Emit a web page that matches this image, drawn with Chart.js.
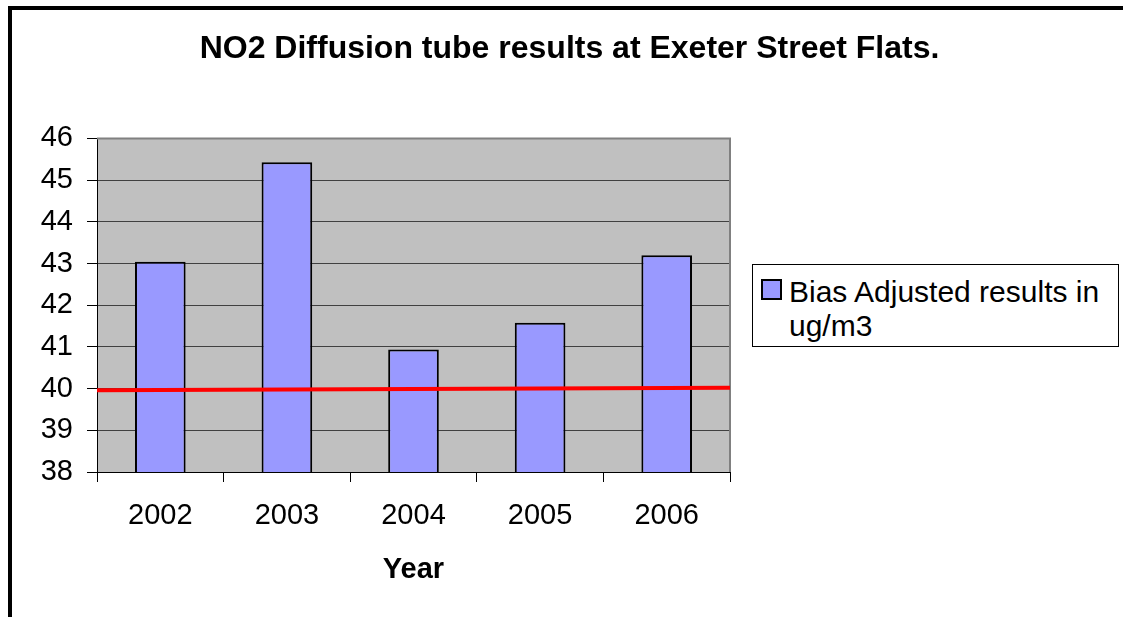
<!DOCTYPE html>
<html>
<head>
<meta charset="utf-8">
<script src="https://cdn.jsdelivr.net/npm/chart.js@4"></script>
<style>
    html, body { margin: 0; padding: 0; background: #fff; }
    #wrap { position: relative; width: 1123px; height: 617px; overflow: hidden; background: #fff; }
    #frame {
        position: absolute; left: 8px; top: 6px; width: 1300px; height: 800px;
        border-left: 4px solid #000; border-top: 4px solid #000; pointer-events: none;
    }
    #legend {
        position: absolute; left: 752px; top: 264px; width: 367px; height: 83px;
        box-sizing: border-box; border: 1px solid #000; background: #fff;
        font-family: 'Liberation Sans', Arial, sans-serif; font-size: 30px; color: #000;
    }
    #legend .swatch {
        position: absolute; left: 8px; top: 14px; width: 21px; height: 21px;
        box-sizing: border-box; border: 2px solid #000; background: #9999ff;
    }
    #legend .text { position: absolute; left: 36px; top: 10px; line-height: 34px; white-space: nowrap; }
</style>
</head>
<body>
<div id="wrap">
    <canvas id="chart" width="1123" height="617"></canvas>
    <div id="legend"><div class="swatch"></div><div class="text" id="legendText"></div></div>
    <div id="frame"></div>
</div>
<script>
const years = ['2002', '2003', '2004', '2005', '2006'];
const biasAdjusted = [43.04, 45.43, 40.94, 41.58, 43.2];
const seriesName = ['Bias Adjusted results in', 'ug/m3'];
// objective line, read at both plot edges
const limitX = [0, 1];
const limitY = [39.96, 40.02];
const yTicks = [38, 39, 40, 41, 42, 43, 44, 45, 46];

const font = "'Liberation Sans', Arial, sans-serif";

document.getElementById('legendText').innerHTML = seriesName.join('<br>');

const plotBg = {
    id: 'plotBg',
    beforeDraw(chart) {
        const { ctx, chartArea: a } = chart;
        ctx.save();
        ctx.fillStyle = '#c0c0c0';
        ctx.fillRect(a.left, a.top, a.right - a.left, a.bottom - a.top);
        ctx.restore();
    },
    beforeDatasetsDraw(chart) {
        const { ctx, chartArea: a } = chart;
        ctx.save();
        ctx.strokeStyle = '#808080';
        ctx.lineWidth = 2;
        ctx.beginPath();
        ctx.moveTo(a.left, a.top);
        ctx.lineTo(a.right, a.top);
        ctx.lineTo(a.right, a.bottom);
        ctx.stroke();
        ctx.restore();
    },
};

new Chart(document.getElementById('chart'), {
    type: 'bar',
    data: {
        labels: years,
        datasets: [
            {
                type: 'line',
                data: limitX.map((x, i) => ({ x, y: limitY[i] })),
                xAxisID: 'xl',
                yAxisID: 'y',
                borderColor: '#ff0000',
                borderWidth: 4,
                pointRadius: 0,
                fill: false,
                order: 0,
            },
            {
                label: seriesName.join(' '),
                data: biasAdjusted,
                xAxisID: 'x',
                yAxisID: 'y',
                backgroundColor: '#9999ff',
                borderColor: '#000',
                borderWidth: 2,
                grouped: false,
                barPercentage: 0.4,
                categoryPercentage: 1,
                order: 1,
            },
        ],
    },
    options: {
        responsive: false,
        animation: false,
        layout: { padding: { left: 16 } },
        plugins: {
            legend: { display: false },
            tooltip: { enabled: false },
            title: {
                display: true,
                text: 'NO2 Diffusion tube results at Exeter Street Flats.',
                color: '#000',
                font: { family: font, size: 32, weight: 'bold', lineHeight: 1.2 },
                padding: { top: 30, bottom: 70 },
            },
        },
        scales: {
            x: {
                type: 'category',
                grid: { offset: true, drawOnChartArea: false, tickLength: 10, tickColor: '#000' },
                border: { color: '#000', width: 1 },
                ticks: { color: '#000', font: { family: font, size: 29 }, padding: 17, maxRotation: 0 },
                title: {
                    display: true,
                    text: 'Year',
                    color: '#000',
                    font: { family: font, size: 29, weight: 'bold', lineHeight: 1.2 },
                    padding: { top: 30, bottom: 30 },
                },
                afterFit: s => { s.height = 145; },
            },
            xl: { type: 'linear', display: false, offset: false, min: 0, max: 1 },
            y: {
                min: 38,
                max: 46,
                afterBuildTicks: s => { s.ticks = yTicks.map(v => ({ value: v })); },
                grid: {
                    color: c => (c.tick && c.tick.value === 46 ? '#808080' : '#404040'),
                    tickColor: '#000',
                    tickLength: 10,
                },
                border: { color: '#000', width: 1 },
                ticks: { color: '#000', font: { family: font, size: 29 }, padding: 14 },
                afterFit: s => { s.width = 81; },
            },
            yr: {
                type: 'linear',
                position: 'right',
                grid: { display: false },
                border: { display: false },
                ticks: { display: false },
                afterFit: s => { s.width = 393; },
            },
        },
    },
    plugins: [plotBg],
});
</script>
</body>
</html>
